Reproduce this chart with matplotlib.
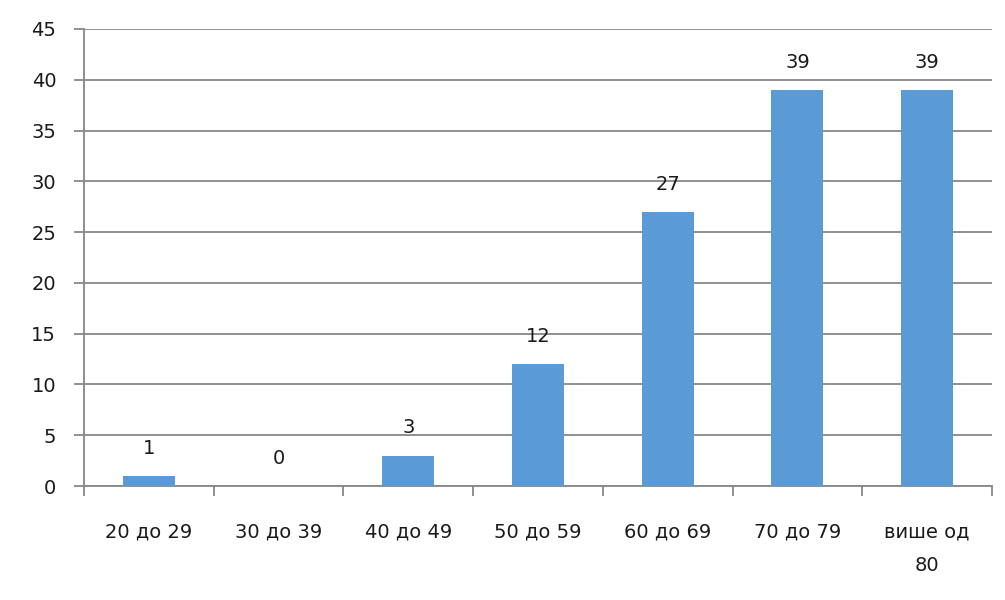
import numpy as np
import matplotlib.pyplot as plt

# data
categories = ['20 до 29', '30 до 39', '40 до 49', '50 до 59', '60 до 69', '70 до 79', 'више од\n80']
values = [1, 0, 3, 12, 27, 39, 39]

fig = plt.figure(figsize=(10.05, 6), dpi=100)
ax = fig.add_axes([0.0836, 0.19, 0.9034, 0.7617])

x = np.arange(len(categories))
bars = ax.bar(x, values, width=0.4, color='#5B9BD5', zorder=3)

for xi, v in zip(x, values):
    ax.annotate(str(v), (xi, v), xytext=(0, 13), textcoords='offset points',
                ha='center', va='bottom', fontsize=14, color='#1a1a1a')

ax.set_xlim(-0.5, len(categories) - 0.5)
ax.set_ylim(0, 45)
ax.set_yticks(np.arange(0, 46, 5))
ax.yaxis.grid(True, color='#878787', linewidth=1.3, zorder=0)
ax.tick_params(axis='y', length=7, width=1.3, color='#878787', pad=13, labelsize=14, labelcolor='#1a1a1a')

ax.set_xticks(x)
ax.set_xticklabels(categories, fontsize=14, color='#1a1a1a', linespacing=2.0, va='top')
ax.tick_params(axis='x', which='major', length=0, pad=26)
ax.set_xticks(np.arange(-0.5, len(categories)), minor=True)
ax.tick_params(axis='x', which='minor', length=7, width=1.3, color='#878787')

for s in ['top', 'right']:
    ax.spines[s].set_visible(False)
for s in ['left', 'bottom']:
    ax.spines[s].set_color('#878787')
    ax.spines[s].set_linewidth(1.3)

fig.savefig('out.png', dpi=100)
